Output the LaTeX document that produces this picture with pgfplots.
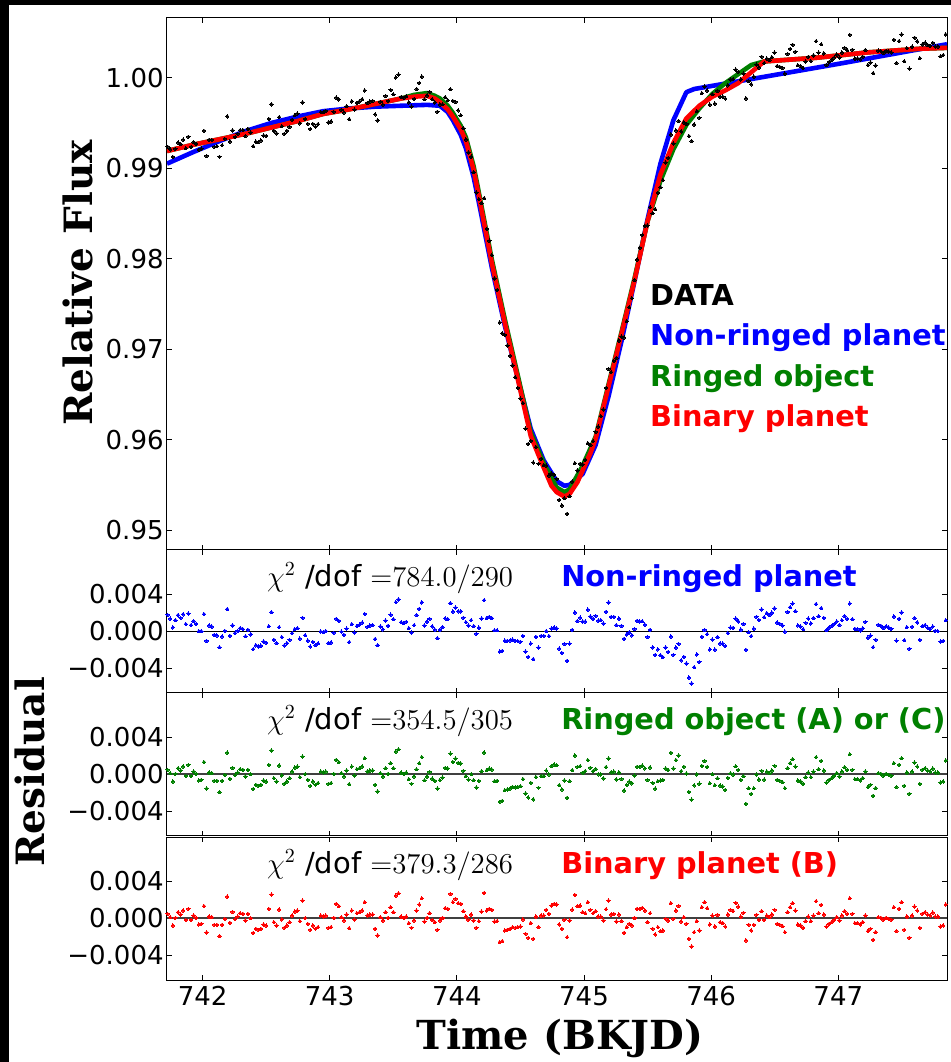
\documentclass[border=0pt]{standalone}
\usepackage{fontspec}
\setmainfont{DejaVu Sans}
\newfontfamily\labfont{DejaVu Serif}
\usepackage{pgfplots}
\usepackage{pgfplotstable}
\pgfplotsset{compat=1.18}

\definecolor{mgreen}{rgb}{0,0.5,0}

% light curve: time, relative flux, residuals of the three models
\pgfplotstableread{
t f rb rg rr
741.725 0.99237 0.00177 0.00047 0.00047
741.745 0.99208 0.00136 0.00011 0.00011
741.766 0.99125 0.00041 -0.00079 -0.00079
741.786 0.99215 0.00119 0.00004 0.00004
741.807 0.99283 0.00175 0.00065 0.00065
741.827 0.99265 0.00145 0.00040 0.00040
741.847 0.99315 0.00183 0.00083 0.00083
741.868 0.99221 0.00077 -0.00018 -0.00018
741.888 0.99347 0.00191 0.00101 0.00101
741.909 0.99235 0.00067 -0.00018 -0.00018
741.929 0.99289 0.00109 0.00029 0.00029
741.949 0.99270 0.00078 0.00004 0.00004
741.970 0.99204 0.00000 -0.00068 -0.00068
741.990 0.99217 0.00001 -0.00061 -0.00061
742.011 0.99414 0.00186 0.00130 0.00130
742.031 0.99135 -0.00105 -0.00155 -0.00155
742.051 0.99314 0.00062 0.00018 0.00018
742.072 0.99313 0.00049 0.00011 0.00011
742.092 0.99236 -0.00040 -0.00072 -0.00072
742.113 0.99242 -0.00046 -0.00072 -0.00072
742.133 0.99126 -0.00174 -0.00194 -0.00194
742.153 0.99254 -0.00057 -0.00072 -0.00072
742.174 0.99325 0.00003 -0.00007 -0.00007
742.194 0.99572 0.00239 0.00234 0.00234
742.215 0.99294 -0.00050 -0.00050 -0.00050
742.235 0.99418 0.00063 0.00068 0.00068
742.255 0.99345 -0.00021 -0.00011 -0.00011
742.276 0.99380 0.00003 0.00018 0.00018
742.296 0.99422 0.00034 0.00054 0.00054
742.317 0.99421 0.00022 0.00047 0.00047
742.337 0.99355 -0.00055 -0.00025 -0.00025
742.357 0.99434 0.00015 0.00047 0.00047
742.378 0.99394 -0.00034 0.00000 0.00000
742.398 0.99243 -0.00194 -0.00158 -0.00158
742.419 0.99293 -0.00153 -0.00115 -0.00115
742.439 0.99289 -0.00166 -0.00126 -0.00126
742.459 0.99307 -0.00157 -0.00115 -0.00115
742.480 0.99361 -0.00112 -0.00068 -0.00068
742.500 0.99357 -0.00125 -0.00079 -0.00079
742.521 0.99544 0.00053 0.00101 0.00101
742.541 0.99706 0.00206 0.00256 0.00256
742.561 0.99414 -0.00093 -0.00043 -0.00043
742.582 0.99385 -0.00129 -0.00079 -0.00079
742.602 0.99565 0.00044 0.00094 0.00094
742.623 0.99464 -0.00064 -0.00014 -0.00014
742.643 0.99381 -0.00154 -0.00104 -0.00104
742.663 0.99413 -0.00129 -0.00079 -0.00079
742.684 0.99456 -0.00093 -0.00043 -0.00043
742.704 0.99535 -0.00021 0.00029 0.00029
742.725 0.99585 0.00022 0.00072 0.00072
742.745 0.99603 0.00033 0.00083 0.00083
742.765 0.99496 -0.00080 -0.00032 -0.00032
742.786 0.99727 0.00145 0.00191 0.00191
742.806 0.99544 -0.00044 0.00000 0.00000
742.827 0.99491 -0.00103 -0.00061 -0.00061
742.847 0.99434 -0.00166 -0.00126 -0.00126
742.867 0.99489 -0.00117 -0.00079 -0.00079
742.888 0.99461 -0.00151 -0.00115 -0.00115
742.908 0.99487 -0.00131 -0.00097 -0.00097
742.929 0.99621 -0.00003 0.00029 0.00029
742.949 0.99618 -0.00012 0.00018 0.00018
742.969 0.99634 0.00001 0.00029 0.00029
742.990 0.99506 -0.00130 -0.00104 -0.00104
743.010 0.99518 -0.00121 -0.00097 -0.00097
743.031 0.99624 -0.00018 0.00004 0.00004
743.051 0.99780 0.00135 0.00155 0.00155
743.071 0.99760 0.00112 0.00130 0.00130
743.092 0.99646 -0.00005 0.00011 0.00011
743.112 0.99615 -0.00039 -0.00025 -0.00025
743.133 0.99685 0.00028 0.00040 0.00040
743.153 0.99542 -0.00118 -0.00108 -0.00108
743.173 0.99739 0.00077 0.00083 0.00083
743.194 0.99648 -0.00016 -0.00014 -0.00014
743.214 0.99722 0.00056 0.00054 0.00054
743.235 0.99739 0.00071 0.00065 0.00065
743.255 0.99763 0.00093 0.00083 0.00083
743.275 0.99859 0.00187 0.00173 0.00173
743.296 0.99721 0.00047 0.00029 0.00029
743.316 0.99738 0.00062 0.00040 0.00040
743.337 0.99744 0.00066 0.00040 0.00040
743.357 0.99595 -0.00085 -0.00115 -0.00115
743.377 0.99529 -0.00152 -0.00187 -0.00187
743.398 0.99733 0.00051 0.00011 0.00011
743.418 0.99703 0.00020 -0.00025 -0.00025
743.439 0.99799 0.00115 0.00065 0.00065
743.459 0.99744 0.00059 0.00004 0.00004
743.479 0.99865 0.00179 0.00119 0.00119
743.500 0.99817 0.00130 0.00065 0.00065
743.520 1.00003 0.00315 0.00245 0.00245
743.541 1.00034 0.00345 0.00270 0.00270
743.561 0.99788 0.00098 0.00018 0.00018
743.581 0.99778 0.00086 0.00004 0.00004
743.602 0.99796 0.00102 0.00018 0.00018
743.622 0.99728 0.00032 -0.00054 -0.00054
743.643 0.99682 -0.00016 -0.00104 -0.00104
743.663 0.99765 0.00065 -0.00025 -0.00025
743.683 0.99875 0.00175 0.00053 0.00083
743.704 0.99942 0.00242 0.00118 0.00148
743.724 1.00012 0.00312 0.00186 0.00216
743.745 0.99762 0.00062 -0.00066 -0.00036
743.765 0.99804 0.00104 -0.00026 0.00004
743.785 0.99844 0.00134 0.00024 0.00054
743.806 0.99762 0.00052 -0.00048 -0.00018
743.826 0.99727 0.00017 -0.00073 -0.00043
743.847 0.99624 -0.00076 -0.00156 -0.00126
743.867 0.99705 0.00015 -0.00065 -0.00025
743.887 0.99707 0.00044 -0.00036 0.00004
743.908 0.99785 0.00138 0.00068 0.00108
743.928 0.99751 0.00131 0.00061 0.00101
743.949 0.99873 0.00303 0.00223 0.00263
743.969 0.99743 0.00213 0.00133 0.00173
743.989 0.99732 0.00256 0.00169 0.00209
744.010 0.99639 0.00215 0.00122 0.00162
744.030 0.99585 0.00215 0.00115 0.00155
744.051 0.99441 0.00146 0.00036 0.00076
744.071 0.99318 0.00098 -0.00022 0.00018
744.091 0.99175 0.00062 -0.00058 -0.00018
744.112 0.99127 0.00120 0.00000 0.00040
744.132 0.98955 0.00055 -0.00065 -0.00025
744.153 0.98731 -0.00029 -0.00144 -0.00104
744.173 0.98658 0.00038 -0.00072 -0.00032
744.194 0.98614 0.00138 0.00032 0.00072
744.214 0.98668 0.00336 0.00234 0.00274
744.235 0.98329 0.00141 0.00043 0.00083
744.255 0.98199 0.00155 0.00061 0.00101
744.275 0.98040 0.00140 0.00050 0.00090
744.296 0.97782 0.00010 -0.00076 -0.00036
744.316 0.97654 0.00010 -0.00072 -0.00032
744.337 0.97295 -0.00221 -0.00299 -0.00259
744.357 0.97174 -0.00214 -0.00288 -0.00248
744.377 0.97157 -0.00103 -0.00173 -0.00133
744.397 0.97040 -0.00104 -0.00166 -0.00126
744.418 0.96927 -0.00101 -0.00155 -0.00115
744.438 0.96821 -0.00091 -0.00137 -0.00097
744.459 0.96690 -0.00106 -0.00144 -0.00104
744.479 0.96573 -0.00107 -0.00137 -0.00097
744.499 0.96454 -0.00114 -0.00130 -0.00090
744.520 0.96404 -0.00052 -0.00054 -0.00014
744.540 0.96123 -0.00221 -0.00209 -0.00169
744.561 0.95954 -0.00278 -0.00252 -0.00212
744.581 0.95986 -0.00134 -0.00094 -0.00054
744.601 0.95747 -0.00303 -0.00273 -0.00223
744.622 0.95918 -0.00062 -0.00032 0.00018
744.642 0.95733 -0.00177 -0.00147 -0.00097
744.663 0.95789 -0.00051 -0.00021 0.00029
744.683 0.95719 -0.00051 -0.00021 0.00029
744.703 0.95713 0.00000 0.00040 0.00090
744.724 0.95604 -0.00053 -0.00003 0.00047
744.744 0.95627 0.00027 0.00087 0.00137
744.765 0.95610 0.00040 0.00105 0.00155
744.785 0.95568 0.00028 0.00098 0.00148
744.805 0.95335 -0.00188 -0.00118 -0.00068
744.826 0.95272 -0.00235 -0.00165 -0.00115
744.846 0.95352 -0.00138 -0.00068 -0.00018
744.867 0.95180 -0.00320 -0.00255 -0.00205
744.887 0.95375 -0.00135 -0.00075 -0.00025
744.907 0.95537 0.00014 0.00044 0.00094
744.928 0.95739 0.00202 0.00202 0.00252
744.948 0.95660 0.00110 0.00080 0.00130
744.969 0.95732 0.00147 0.00087 0.00137
744.989 0.95725 0.00105 0.00015 0.00065
745.009 0.95777 0.00104 0.00034 0.00054
745.030 0.95960 0.00233 0.00153 0.00173
745.050 0.95940 0.00160 0.00070 0.00090
745.071 0.95984 0.00134 0.00034 0.00054
745.091 0.96086 0.00166 0.00056 0.00076
745.111 0.96144 0.00114 -0.00002 0.00018
745.132 0.96260 0.00120 -0.00002 0.00018
745.152 0.96333 0.00083 -0.00045 -0.00025
745.173 0.96571 0.00211 0.00077 0.00097
745.193 0.96781 0.00311 0.00171 0.00191
745.213 0.96746 0.00154 0.00020 0.00040
745.234 0.96869 0.00155 0.00027 0.00047
745.254 0.96902 0.00066 -0.00056 -0.00036
745.275 0.97094 0.00136 0.00020 0.00040
745.295 0.97138 0.00058 -0.00052 -0.00032
745.315 0.97130 -0.00082 -0.00178 -0.00158
745.336 0.97309 -0.00035 -0.00117 -0.00097
745.356 0.97463 -0.00013 -0.00081 -0.00061
745.377 0.97563 -0.00045 -0.00099 -0.00079
745.397 0.97764 0.00024 -0.00016 0.00004
745.417 0.97991 0.00113 0.00081 0.00101
745.438 0.98121 0.00105 0.00081 0.00101
745.458 0.98262 0.00108 0.00092 0.00112
745.479 0.98363 0.00071 0.00063 0.00083
745.499 0.98367 -0.00063 -0.00063 -0.00043
745.519 0.98568 0.00014 0.00074 0.00054
745.540 0.98503 -0.00175 -0.00095 -0.00115
745.560 0.98546 -0.00256 -0.00156 -0.00176
745.581 0.98729 -0.00197 -0.00077 -0.00097
745.601 0.98790 -0.00260 -0.00070 -0.00140
745.621 0.98867 -0.00283 -0.00063 -0.00133
745.642 0.99063 -0.00177 0.00063 -0.00007
745.662 0.99115 -0.00225 0.00045 -0.00025
745.683 0.99372 -0.00058 0.00232 0.00162
745.703 0.99273 -0.00257 0.00063 -0.00007
745.723 0.99417 -0.00177 0.00153 0.00083
745.744 0.99521 -0.00137 0.00203 0.00133
745.764 0.99406 -0.00316 0.00034 -0.00036
745.785 0.99507 -0.00279 0.00081 0.00011
745.805 0.99489 -0.00351 0.00009 -0.00061
745.825 0.99355 -0.00503 -0.00193 -0.00223
745.846 0.99300 -0.00566 -0.00276 -0.00306
745.866 0.99483 -0.00391 -0.00121 -0.00151
745.887 0.99630 -0.00252 -0.00002 -0.00032
745.907 0.99557 -0.00333 -0.00103 -0.00133
745.927 0.99829 -0.00061 0.00089 0.00119
745.948 0.99903 0.00013 0.00143 0.00173
745.968 0.99858 -0.00032 0.00078 0.00108
745.989 0.99702 -0.00198 -0.00098 -0.00068
746.009 0.99819 -0.00091 -0.00001 0.00029
746.029 0.99714 -0.00200 -0.00120 -0.00090
746.050 0.99854 -0.00064 -0.00044 0.00036
746.070 0.99789 -0.00133 -0.00123 -0.00043
746.091 0.99792 -0.00134 -0.00134 -0.00054
746.111 0.99770 -0.00160 -0.00170 -0.00090
746.131 0.99916 -0.00020 -0.00040 0.00040
746.152 0.99982 0.00040 0.00010 0.00090
746.172 0.99984 0.00036 -0.00004 0.00076
746.193 1.00090 0.00136 0.00086 0.00166
746.213 1.00066 0.00106 0.00046 0.00126
746.233 0.99982 0.00018 -0.00062 0.00018
746.254 1.00046 0.00078 -0.00022 0.00058
746.274 0.99771 -0.00201 -0.00321 -0.00241
746.295 0.99964 -0.00012 -0.00152 -0.00072
746.315 0.99927 -0.00053 -0.00213 -0.00133
746.335 1.00012 0.00028 -0.00152 -0.00072
746.356 1.00144 0.00156 -0.00004 0.00036
746.376 1.00114 0.00122 -0.00058 -0.00018
746.397 1.00232 0.00236 0.00036 0.00076
746.417 1.00162 0.00152 -0.00058 -0.00018
746.437 1.00211 0.00196 0.00029 0.00029
746.458 1.00195 0.00175 0.00011 0.00011
746.478 1.00226 0.00201 0.00040 0.00040
746.499 1.00278 0.00248 0.00090 0.00090
746.519 1.00129 0.00094 -0.00061 -0.00061
746.539 1.00120 0.00080 -0.00072 -0.00072
746.560 1.00108 0.00063 -0.00086 -0.00086
746.580 1.00045 -0.00005 -0.00151 -0.00151
746.601 1.00263 0.00208 0.00065 0.00065
746.621 1.00319 0.00259 0.00119 0.00119
746.641 1.00364 0.00299 0.00162 0.00162
746.662 1.00287 0.00217 0.00083 0.00083
746.682 1.00138 0.00063 -0.00068 -0.00068
746.703 1.00129 0.00049 -0.00079 -0.00079
746.723 1.00106 0.00021 -0.00104 -0.00104
746.743 1.00180 0.00090 -0.00032 -0.00032
746.764 1.00232 0.00137 0.00018 0.00018
746.784 1.00184 0.00084 -0.00032 -0.00032
746.805 1.00247 0.00142 0.00029 0.00029
746.825 1.00404 0.00294 0.00184 0.00184
746.845 1.00277 0.00162 0.00054 0.00054
746.866 1.00370 0.00250 0.00144 0.00144
746.886 1.00269 0.00144 0.00040 0.00040
746.907 1.00142 0.00012 -0.00090 -0.00090
746.927 1.00174 0.00039 -0.00061 -0.00061
746.947 1.00195 0.00055 -0.00043 -0.00043
746.968 1.00223 0.00078 -0.00018 -0.00018
746.988 1.00255 0.00105 0.00011 0.00011
747.009 1.00222 0.00067 -0.00025 -0.00025
747.029 1.00279 0.00119 0.00029 0.00029
747.049 1.00329 0.00164 0.00076 0.00076
747.070 1.00303 0.00133 0.00047 0.00047
747.090 1.00475 0.00300 0.00216 0.00216
747.111 1.00309 0.00129 0.00047 0.00047
747.131 1.00211 0.00026 -0.00054 -0.00054
747.151 1.00214 0.00024 -0.00054 -0.00054
747.172 1.00203 0.00008 -0.00068 -0.00068
747.192 1.00231 0.00031 -0.00043 -0.00043
747.213 1.00306 0.00101 0.00029 0.00029
747.233 1.00140 -0.00070 -0.00140 -0.00140
747.253 1.00167 -0.00048 -0.00115 -0.00115
747.274 1.00050 -0.00173 -0.00234 -0.00234
747.294 1.00135 -0.00093 -0.00151 -0.00151
747.315 1.00299 0.00069 0.00011 0.00011
747.335 1.00294 0.00059 0.00004 0.00004
747.355 1.00274 0.00034 -0.00018 -0.00018
747.376 1.00298 0.00053 0.00004 0.00004
747.396 1.00289 0.00039 -0.00007 -0.00007
747.417 1.00280 0.00025 -0.00018 -0.00018
747.437 1.00419 0.00159 0.00119 0.00119
747.457 1.00162 -0.00103 -0.00140 -0.00140
747.478 1.00405 0.00135 0.00101 0.00101
747.498 1.00479 0.00204 0.00173 0.00173
747.519 1.00182 -0.00098 -0.00126 -0.00126
747.539 1.00328 0.00043 0.00018 0.00018
747.559 1.00100 -0.00190 -0.00212 -0.00212
747.580 1.00343 0.00048 0.00029 0.00029
747.600 1.00442 0.00142 0.00126 0.00126
747.621 1.00401 0.00096 0.00083 0.00083
747.641 1.00216 -0.00094 -0.00104 -0.00104
747.661 1.00368 0.00053 0.00047 0.00047
747.682 1.00387 0.00067 0.00065 0.00065
747.702 1.00363 0.00038 0.00040 0.00040
747.723 1.00353 0.00023 0.00029 0.00029
747.743 1.00386 0.00051 0.00061 0.00061
747.763 1.00344 0.00004 0.00018 0.00018
747.784 1.00345 0.00000 0.00018 0.00018
747.804 1.00238 -0.00112 -0.00090 -0.00090
747.825 1.00250 -0.00105 -0.00079 -0.00079
747.845 1.00478 0.00118 0.00148 0.00148
}\lctab

\pgfplotsset{
  panel/.style={
    scale only axis, width=390pt, anchor=south west,
    xmin=741.72, xmax=747.855,
    xtick={742,743,744,745,746,747},
    scaled x ticks=false, scaled y ticks=false,
    tick align=inside, major tick length=2.6pt,
    axis line style={line width=0.5pt},
    every tick/.style={black, line width=0.5pt},
    tick label style={font=\fontsize{13}{15}\selectfont},
    yticklabel style={inner xsep=1.5pt},
    xticklabel style={inner ysep=3pt},
  },
  resid/.style={
    panel, height=71.5pt,
    ymin=-0.0067, ymax=0.0088,
    ytick={-0.004,0,0.004},
    yticklabels={−0.004,0.000,0.004},
  },
  fitline/.style={line width=2.3pt, line join=round},
  dots/.style={only marks, color=#1, mark=*, mark size=0.85pt,
    mark options={solid, draw=#1, fill=#1, line width=0pt}},
}
\tikzset{
  panellabel/.style={anchor=base west, inner sep=0pt, font=\bfseries\fontsize{14.4}{16}\selectfont},
  chilabel/.style={anchor=base west, inner sep=0pt, font=\fontsize{14.5}{16}\selectfont},
}

\begin{document}
\begin{tikzpicture}
\useasboundingbox (0pt,0pt) rectangle (475.5pt,531pt);
\fill[black] (0pt,0pt) rectangle (4.5pt,531pt);
\fill[black] (0pt,528.5pt) rectangle (475.5pt,531pt);

% light curve and the three fitted models
\begin{axis}[panel, at={(83.5pt,256pt)}, height=266pt,
  ymin=0.9478, ymax=1.0066,
  ytick={0.95,0.96,0.97,0.98,0.99,1.00},
  yticklabels={0.95,0.96,0.97,0.98,0.99,1.00},
  xticklabels={}]
\addplot[fitline, blue] coordinates {
(741.72,0.9905) (741.929,0.9918) (742.133,0.9930) (742.337,0.9941) (742.541,0.9950)
(742.745,0.9957) (742.949,0.9963) (743.153,0.9966) (743.357,0.9968) (743.561,0.9969)
(743.765,0.9970) (743.867,0.9969) (743.928,0.9962) (743.969,0.9953) (744.030,0.9937)
(744.071,0.9922) (744.132,0.9890) (744.173,0.9862) (744.275,0.9790) (744.377,0.9726)
(744.479,0.9668) (744.581,0.9612) (744.683,0.9577) (744.785,0.9554) (744.846,0.9549)
(744.887,0.9550) (744.989,0.9562) (745.091,0.9594) (745.193,0.9648) (745.295,0.9709)
(745.397,0.9775) (745.499,0.9843) (745.601,0.9905) (745.703,0.9953) (745.805,0.9984)
(745.866,0.99875) (746.009,0.9991) (746.417,1.0001) (747.029,1.0016) (747.855,1.0037)};
\addplot[fitline, mgreen] coordinates {
(741.72,0.9919) (741.929,0.9926) (742.133,0.9932) (742.337,0.9938) (742.541,0.9945)
(742.745,0.9952) (742.949,0.9960) (743.153,0.9965) (743.357,0.9971) (743.561,0.9977)
(743.663,0.9981) (743.765,0.9983) (743.826,0.9980) (743.867,0.9977) (743.928,0.9969)
(743.969,0.9961) (744.030,0.9947) (744.071,0.9934) (744.132,0.9902) (744.173,0.9873)
(744.275,0.9799) (744.377,0.9733) (744.479,0.9671) (744.581,0.9608) (744.683,0.9574)
(744.785,0.9547) (744.846,0.9542) (744.887,0.9545) (744.989,0.9571) (745.091,0.9603)
(745.193,0.9661) (745.295,0.9719) (745.397,0.9778) (745.499,0.9841) (745.601,0.9886)
(745.703,0.9921) (745.805,0.9948) (745.907,0.9966) (746.009,0.9982) (746.111,0.9994)
(746.213,1.0004) (746.315,1.0014) (746.417,1.0018) (746.621,1.0020) (746.825,1.0022)
(747.029,1.0025) (747.233,1.0028) (747.437,1.0030) (747.641,1.0032) (747.855,1.0033)};
\addplot[fitline, red] coordinates {
(741.72,0.9919) (741.929,0.9926) (742.133,0.9932) (742.337,0.9938) (742.541,0.9945)
(742.745,0.9952) (742.949,0.9960) (743.153,0.9965) (743.357,0.9971) (743.561,0.9977)
(743.663,0.9979) (743.765,0.9980) (743.826,0.9977) (743.867,0.9973) (743.928,0.9965)
(743.969,0.9957) (744.030,0.9943) (744.071,0.9930) (744.132,0.9898) (744.173,0.9869)
(744.275,0.9795) (744.377,0.9729) (744.479,0.9667) (744.581,0.9604) (744.683,0.9569)
(744.744,0.9549) (744.785,0.9542) (744.846,0.9537) (744.887,0.9540) (744.948,0.9553)
(744.989,0.9566) (745.050,0.9585) (745.091,0.9601) (745.193,0.9659) (745.295,0.9717)
(745.397,0.9776) (745.499,0.9841) (745.601,0.9893) (745.703,0.9928) (745.805,0.9955)
(745.907,0.9969) (746.009,0.9979) (746.111,0.9986) (746.213,0.9994) (746.315,1.0006)
(746.417,1.0018) (746.621,1.0020) (746.825,1.0022) (747.029,1.0025) (747.233,1.0028)
(747.437,1.0030) (747.641,1.0032) (747.855,1.0033)};
\addplot[dots=black] table[x=t, y=f] {\lctab};
\node[panellabel, text=black]  at (rel axis cs:0.619,0.4605) {DATA};
\node[panellabel, text=blue]   at (rel axis cs:0.619,0.3835) {Non-ringed planet};
\node[panellabel, text=mgreen] at (rel axis cs:0.619,0.3064) {Ringed object};
\node[panellabel, text=red]    at (rel axis cs:0.619,0.2312) {Binary planet};
\end{axis}

% residuals, non-ringed planet
\begin{axis}[resid, at={(83.5pt,184.5pt)}, xticklabels={}]
\addplot[black, line width=0.6pt] coordinates {(741.72,0) (747.855,0)};
\addplot[dots=blue] table[x=t, y=rb] {\lctab};
\node[chilabel] at (rel axis cs:0.128,0.748) {$\chi^2$ /dof ${=}784.0/290$};
\node[panellabel, text=blue] at (rel axis cs:0.505,0.748) {Non-ringed planet};
\end{axis}

% residuals, ringed object
\begin{axis}[resid, at={(83.5pt,113pt)}, xticklabels={}]
\addplot[black!75, line width=0.7pt] coordinates {(741.72,0) (747.855,0)};
\addplot[dots=mgreen] table[x=t, y=rg] {\lctab};
\node[chilabel] at (rel axis cs:0.128,0.748) {$\chi^2$ /dof ${=}354.5/305$};
\node[panellabel, text=mgreen] at (rel axis cs:0.505,0.748) {Ringed object (A) or (C)};
\end{axis}

% residuals, binary planet
\begin{axis}[resid, at={(83.5pt,41pt)},
  xticklabels={742,743,744,745,746,747}]
\addplot[black!75, line width=0.7pt] coordinates {(741.72,0) (747.855,0)};
\addplot[dots=red] table[x=t, y=rr] {\lctab};
\node[chilabel] at (rel axis cs:0.128,0.748) {$\chi^2$ /dof ${=}379.3/286$};
\node[panellabel, text=red] at (rel axis cs:0.505,0.748) {Binary planet (B)};
\end{axis}

% axis titles
\node[rotate=90, anchor=base, inner sep=0pt,
  font=\labfont\bfseries\fontsize{19.5}{22}\selectfont] at (46pt,389.5pt) {Relative Flux};
\node[rotate=90, anchor=base, inner sep=0pt,
  font=\labfont\bfseries\fontsize{19.5}{22}\selectfont] at (22.5pt,145pt) {Residual};
\node[anchor=base, inner sep=0pt,
  font=\labfont\bfseries\fontsize{20}{22}\selectfont] at (280pt,6pt) {Time (BKJD)};
\end{tikzpicture}
\end{document}
